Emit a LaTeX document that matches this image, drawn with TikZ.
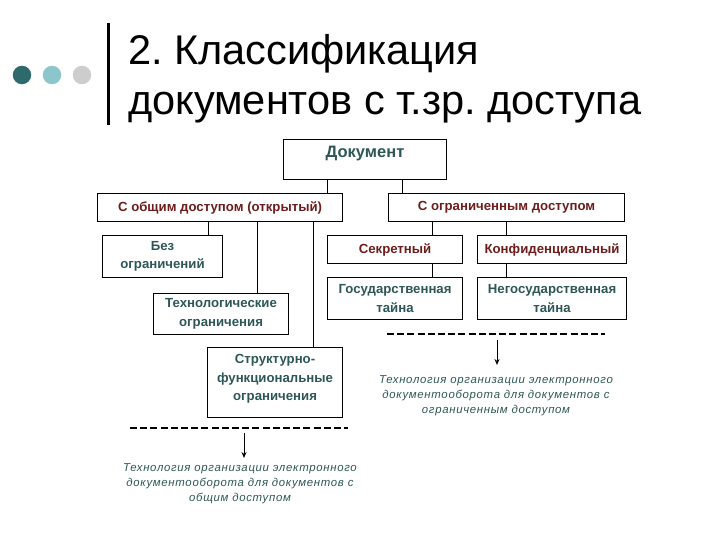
\documentclass[tikz,border=0pt]{standalone}
\usepackage{fontspec}
\setmainfont{Liberation Sans}
\newfontfamily\notefont[LetterSpace=6]{Liberation Sans}
\usetikzlibrary{arrows.meta}
\definecolor{slate}{HTML}{2E5656}
\definecolor{brick}{HTML}{6E1C1C}
\definecolor{dotA}{HTML}{2E6A6C}
\definecolor{dotB}{HTML}{8CC6CA}
\definecolor{dotC}{HTML}{CDCDCD}
\newcommand{\topbox}[4]{\parbox[c][#2][t]{#1}{\centering\vspace*{#3}#4}}
\frenchspacing
\begin{document}
\frenchspacing
\begin{tikzpicture}[x=1pt,y=-1pt,
  box/.style={draw=black, line width=1.1pt, inner sep=0pt, align=center, anchor=north west,
    text=slate, font=\fontsize{13.2}{18.5}\selectfont\bfseries},
  redbox/.style={box, text=brick},
  link/.style={line width=0.9pt},
  dashline/.style={line width=1.8pt, dash pattern=on 7pt off 3.2pt},
  pointer/.style={line width=1pt, -{Stealth[length=6pt,width=5pt]}},
  note/.style={inner sep=0pt, align=center, anchor=north, text=slate,
    font=\fontsize{11.4}{15}\selectfont\notefont\itshape},
  title/.style={anchor=base west, inner sep=0pt, font=\fontsize{41.5}{50}\selectfont},
  dot/.style={circle, inner sep=0pt, minimum size=18.5pt}]
\useasboundingbox (0,0) rectangle (720,540);

% decoration
\node[dot, fill=dotA] (d1) at (22,75) {};
\node[dot, fill=dotB] (d2) at (52,75) {};
\node[dot, fill=dotC] (d3) at (82,75) {};
\coordinate (bartop) at (108,23);
\coordinate (barbot) at (108,125);
\draw[line width=3pt] (bartop) -- (barbot);
\node[title] (t1) at (128,65) {2. Классификация};
\node[title] (t2) at (128,115) {документов с т.зр. доступа};

% boxes
\node[box, minimum width=163pt, minimum height=40pt, font=\fontsize{16.5}{19}\selectfont\bfseries] (doc) at (283,139)
  {\topbox{163pt}{40pt}{7pt}{Документ}};
\node[redbox, minimum width=245pt, minimum height=28pt] (open) at (97,193) {С общим доступом (открытый)};
\node[redbox, minimum width=236pt, minimum height=28pt] (restr) at (388,193) {С ограниченным доступом};
\node[box, minimum width=120pt, minimum height=42pt] (bez) at (102,235) {Без\\ограничений};
\node[box, minimum width=135pt, minimum height=41pt] (tech) at (153,293) {Технологические\\ограничения};
\node[box, minimum width=135pt, minimum height=70pt] (struct) at (207,347)
  {\topbox{135pt}{70pt}{7pt}{Структурно-\\функциональные\\ограничения}};
\node[redbox, minimum width=135pt, minimum height=28pt] (secret) at (327,235) {Секретный};
\node[redbox, minimum width=149pt, minimum height=28pt] (conf) at (477,235) {Конфиденциальный};
\node[box, minimum width=135pt, minimum height=42pt] (state) at (327,277) {Государственная\\тайна};
\node[box, minimum width=149pt, minimum height=42pt] (nonstate) at (477,277) {Негосударственная\\тайна};

% connector x positions
\coordinate (xa) at (327,0);
\coordinate (xb) at (402,0);
\coordinate (xc) at (208,0);
\coordinate (xd) at (257,0);
\coordinate (xe) at (313,0);
\coordinate (xf) at (432,0);
\coordinate (xg) at (506,0);

\draw[link] (doc.south -| xa) -- (open.north -| xa);
\draw[link] (doc.south -| xb) -- (restr.north -| xb);
\draw[link] (open.south -| xc) -- (bez.north -| xc);
\draw[link] (open.south -| xd) -- (tech.north -| xd);
\draw[link] (open.south -| xe) -- (struct.north -| xe);
\draw[link] (restr.south -| xf) -- (secret.north -| xf);
\draw[link] (restr.south -| xg) -- (conf.north -| xg);
\draw[link] (secret.south -| xf) -- (state.north -| xf);
\draw[link] (conf.south -| xg) -- (nonstate.north -| xg);

% lower left note
\coordinate (la) at (130,428);
\coordinate (lb) at (348,428);
\draw[dashline] (la) -- (lb);
\node[note] (noteA) at (240,463) {Технология организации электронного\\документооборота для документов с\\общим доступом};
\coordinate (pa) at (244,433);
\coordinate (pa2) at (244,458);
\draw[pointer] (pa) -- (pa2);

% right note
\coordinate (ra) at (387,334);
\coordinate (rb) at (605,334);
\draw[dashline] (ra) -- (rb);
\node[note] (noteB) at (496,375) {Технология организации электронного\\документооборота для документов с\\ограниченным доступом};
\coordinate (pb) at (497,340);
\coordinate (pb2) at (497,365);
\draw[pointer] (pb) -- (pb2);
\end{tikzpicture}
\end{document}
